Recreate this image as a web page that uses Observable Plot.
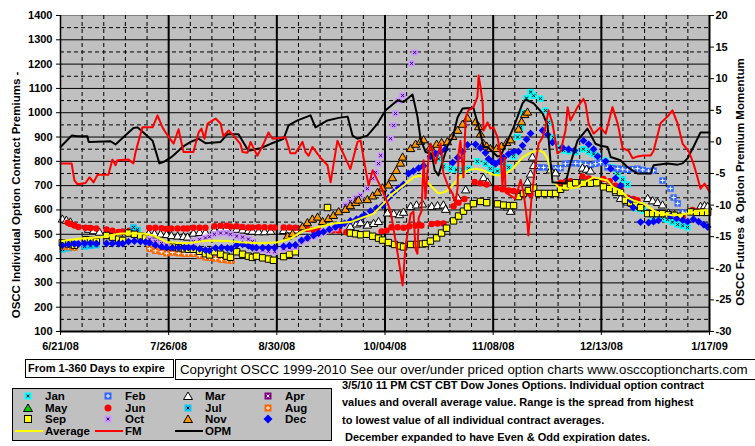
<!DOCTYPE html>
<html><head><meta charset="utf-8">
<script src="https://cdn.jsdelivr.net/npm/d3@7"></script>
<script src="https://cdn.jsdelivr.net/npm/@observablehq/plot@0.6"></script>
<style>
body{margin:0;background:#fff;font-family:"Liberation Sans",Arial,sans-serif;}
#wrap{position:relative;width:755px;height:446px;overflow:hidden;background:#fff;}
#chart{position:absolute;left:0;top:0;}
.box{position:absolute;border:1px solid #000;background:#fff;white-space:nowrap;box-sizing:border-box;}
#days{left:25px;top:359px;width:149px;height:19px;font-weight:bold;font-size:11px;line-height:17px;padding-left:2px;}
#copy{left:175px;top:359px;width:600px;height:21px;font-size:13.3px;line-height:19px;padding-left:4px;}
#legend{position:absolute;left:12px;top:388px;}
#note{position:absolute;left:342px;top:377px;font-weight:bold;font-size:11px;line-height:17.3px;white-space:pre;}
</style></head>
<body><div id="wrap"><div id="chart"></div>
<div id="days" class="box">From 1-360 Days to expire</div>
<div id="copy" class="box">Copyright OSCC 1999-2010 See our over/under priced option charts www.osccoptioncharts.com</div>
<svg id="legend" width="322" height="54"></svg>
<div id="note"></div>
</div>
<script>
// ---- axis ticks / labels ----
const dateLabels = ["6/21/08","7/26/08","8/30/08","10/04/08","11/08/08","12/13/08","1/17/09"];
const dateTickDays = [0,35,70,105,140,175,210];
const leftTicks = [100,200,300,400,500,600,700,800,900,1000,1100,1200,1300,1400];
const rightTicks = [-30,-25,-20,-15,-10,-5,0,5,10,15,20];
const months = ["Jan","Feb","Mar","Apr","May","Jun","Jul","Aug","Sep","Oct","Nov","Dec"];
const noteLines = ["3/5/10 11 PM CST CBT Dow Jones Options. Individual option contract","values and overall average value. Range is the spread from highest","to lowest value of all individual contract averages."," December expanded to have Even & Odd expiration dates."];

// ---- series: [day since 6/21/08, value] ----
const jan = [[120.7,830],[122.3,810],[123.9,780],[126.2,770],[128.1,765],[130.1,765],[132,770],[134.9,800],[137.5,790],[139.1,770],[141.4,760],[143.4,790],[145,775],[146.6,820],[147.9,900],[148.9,940],[149.8,1000],[150.8,1060],[152.1,1085],[153.1,1070],[155.3,1058],[156.9,1009],[157.9,960],[159.5,898],[161.2,855],[162.8,845],[164.4,842],[166.7,838],[169.2,850],[170.9,840],[172.5,830],[173.8,822],[176.4,803],[178.6,775],[180.3,750],[181.9,725],[183.5,705],[184.5,640],[185.7,620],[186.7,606],[188.4,598],[190.3,585],[191.9,570],[194.8,565],[196.4,560],[198,550],[199.7,540],[201.3,535],[202.9,528]];
const feb = [[154.4,775],[156.3,775],[158.2,773],[160.2,772],[161.8,772],[163.4,790],[165,792],[166.7,792],[168.3,790],[169.9,788],[171.5,785],[173.1,790],[174.7,795],[177,775],[178.6,772],[180.3,770],[181.9,768],[183.5,765],[185.1,768],[186.7,770],[188.4,765],[190.3,760],[191.9,762],[194.8,721],[197.4,688],[198.4,651],[199.7,627],[201.3,590]];
const mar = [[0.6,560],[1.9,555],[3.2,548],[9.1,518],[10.7,512],[12.6,506],[15.2,500],[17.2,498],[19.1,497],[28.5,500],[30.4,500],[32.4,498],[34.3,496],[35.9,492],[37.9,490],[39.8,488],[41.1,486],[43,502],[45,505],[46.9,505],[49.8,515],[51.8,520],[53.7,523],[57,518],[58.9,515],[60.8,512],[62.1,510],[64.1,508],[66,508],[68,510],[72.2,513],[74.1,515],[76,515],[93.8,530],[95.8,540],[97.1,545],[99.3,535],[101.3,542],[102.9,550],[105.8,585],[107.8,582],[109.7,578],[111,588],[113.3,612],[115.2,618],[117.1,622],[120.1,612],[122,615],[123.9,618],[124.6,600],[128.5,648],[131.1,680],[136.9,730],[138.2,712],[144.7,610],[145.6,592],[151.1,712],[152.1,745],[152.7,815],[153.1,780],[158.6,762],[160.2,750],[163.4,712],[165.4,708],[167.3,705],[168.9,770],[170.2,765],[171.5,758],[178.6,688],[179.9,670],[181.2,645],[183.5,630],[185.1,625],[190,645],[191.6,635],[193.2,628],[194.8,618],[196.7,585],[198.7,578],[200.6,572],[207.1,612],[208.4,615],[209.4,612]];
const apr = [];
const may = [];
const jun = [[2.3,548],[3.2,542],[4.5,536],[5.8,530],[8.1,527],[9.7,526],[11.6,524],[14.9,520],[16.8,515],[18.8,510],[20.1,512],[22.3,515],[23.6,515],[28.8,526],[30.7,527],[32.7,525],[34.3,522],[35.9,524],[37.9,524],[39.8,524],[41.1,524],[43,527],[45,527],[46.9,527],[49.8,533],[51.8,535],[53.7,535],[55,532],[57,533],[58.9,530],[60.8,528],[62.1,528],[64.1,529],[66,529],[68,528],[69.3,528],[72.2,528],[74.1,528],[76,527],[78,524],[79.9,522],[81.9,517],[83.5,515],[88,515],[90,515],[92.5,508],[93.8,507],[103.9,512],[105.5,515],[107.1,529],[109.1,529],[111,527],[112.9,533],[114.9,536],[116.8,536],[120.1,542],[122,544],[123.9,544],[127.2,615],[128.8,630],[130.7,645],[134,715],[135.9,710],[137.9,705],[141.1,690],[143,685],[145,680],[146.6,678],[148.2,672],[150.2,668],[152.1,665],[161.8,712],[163.4,715],[165,718],[167,705],[168.9,738],[170.9,730],[172.8,722],[175.7,728],[177.7,718],[179.6,700],[181.2,692],[183.5,650],[185.4,645],[186.7,640],[197.4,580],[199.3,575],[201.3,570],[204.5,600],[206.1,595],[207.8,592],[209.4,590]];
const jul = [[0.6,438],[2.6,442],[4.5,448],[7.8,450],[9.7,452],[11.6,455],[23.6,528],[24.9,518]];
const aug = [[0.6,450],[2.6,447],[4.5,445],[28.8,440],[30.7,432],[32.7,428],[34.3,422],[36.2,425],[38.2,422],[40.1,420],[41.4,420],[43,420],[45,412],[46.9,405],[48.2,403],[50.2,400],[52.1,395],[54,393],[55.3,392]];
const sep = [[0.6,465],[2.6,460],[4.5,455],[8.1,478],[9.7,475],[11.6,470],[14.9,495],[16.8,488],[18.8,480],[20.1,475],[22,505],[23.9,500],[25.9,493],[27.5,485],[28.8,478],[30.7,470],[32.7,460],[34.3,452],[36.2,448],[38.2,444],[40.1,440],[41.4,438],[43,438],[45,430],[46.9,420],[48.2,415],[49.8,428],[51.8,418],[53.7,410],[55,405],[57,428],[58.9,418],[60.8,410],[62.1,405],[63.4,410],[65.4,403],[67.3,398],[68.9,393],[72.2,408],[74.1,418],[76,428],[86.4,610],[93.8,505],[95.5,502],[97.1,498],[99,500],[101,492],[102.9,484],[104.2,476],[106.1,466],[108.1,458],[110,452],[111,448],[113.3,458],[115.2,458],[117.1,460],[118.1,462],[119.7,472],[121.7,485],[123.3,505],[124.9,525],[127.2,555],[128.8,575],[130.4,595],[131.7,612],[133.6,626],[135.9,635],[137.9,630],[141.4,625],[143.4,620],[145.3,618],[146.6,618],[148.2,655],[149.8,668],[151.4,680],[153.1,690],[154.7,668],[156.6,668],[158.6,668],[160.2,668],[161.8,685],[163.4,695],[165,705],[166.7,712],[169.2,710],[171.5,710],[173.5,712],[175.7,695],[177.7,688],[179.6,680],[181.2,672],[182.8,640],[184.5,630],[186.1,620],[187.7,610],[190,585],[191.6,585],[193.2,585],[194.8,585],[196.7,580],[198.7,578],[200.6,572],[203.9,592],[205.8,590],[207.8,590],[209.4,590]];
const oct = [[28.8,480],[30.7,470],[32.7,462],[34.3,455],[43,470],[45,478],[46.9,485],[48.2,490],[49.8,500],[51.8,505],[53.7,505],[55,500],[57,492],[58.9,488],[60.8,480],[62.1,470],[63.4,440],[65.4,435],[67.3,430],[69.3,428],[72.2,440],[74.1,445],[76,448],[78,470],[79.9,478],[81.9,490],[83.5,498],[85.1,510],[87,520],[89,525],[92.2,620],[93.8,635],[95.5,650],[97.1,660],[99.3,688],[101,730],[101.9,754],[102.9,791],[103.6,824],[106.8,894],[107.8,948],[108.4,997],[109.4,1050],[110.7,1071],[113.6,1203],[114.6,1248]];
const nov = [[73.5,490],[75.1,500],[78.3,528],[79.9,545],[81.5,560],[83.2,568],[84.8,550],[86.7,562],[88.3,575],[90,590],[92.2,600],[93.8,615],[95.5,628],[96.4,638],[99.3,640],[101,655],[102.6,670],[104.2,688],[106.1,700],[107.4,730],[108.7,760],[110,790],[110.7,815],[113.3,850],[114.9,868],[116.5,880],[117.5,886],[119.7,856],[121.7,868],[123.3,875],[125.2,878],[126.9,900],[128.5,925],[130.1,950],[131.7,975],[134.3,960],[135.3,940],[135.9,910],[136.9,870],[137.9,860],[139.1,850],[141.1,850],[142.7,860],[144.4,875],[145.6,886],[148.2,930],[149.2,960],[150.2,990],[151.1,1000]];
const dec = [[0.6,455],[2.6,458],[4.5,460],[5.8,460],[7.8,462],[9.7,464],[11.6,462],[14.9,462],[16.8,462],[18.8,462],[20.1,462],[22,470],[23.9,472],[25.9,470],[27.5,468],[28.8,465],[30.7,455],[32.7,448],[34.3,445],[36.2,445],[38.2,445],[40.1,445],[41.4,445],[43,445],[45,440],[46.9,435],[48.2,433],[50.2,443],[52.1,445],[54,443],[55.3,441],[57,455],[58.9,458],[60.8,452],[62.1,445],[63.4,445],[65.4,445],[67.3,445],[69.3,445],[72.2,450],[74.1,454],[76,456],[78,475],[79.9,485],[81.9,495],[83.5,505],[85.1,510],[87,520],[89,530],[90.6,538],[91.9,545],[93.8,555],[95.8,562],[97.4,570],[98.4,578],[100.3,595],[102.3,608],[104.2,618],[106.1,650],[107.8,672],[109.4,690],[111,705],[112.6,750],[114.2,760],[115.9,772],[117.5,782],[119.7,820],[121.4,832],[123,840],[124.6,850],[126.9,795],[128.5,815],[130.1,840],[131.7,868],[134.3,870],[135.9,855],[137.5,835],[138.5,810],[139.5,800],[140.8,790],[142.1,800],[143.4,815],[145,830],[146.6,840],[148.2,840],[149.5,865],[150.8,890],[152.1,915],[156,927],[157.6,910],[159.2,878],[162.4,857],[164.4,850],[166.3,845],[169.2,885],[170.9,870],[172.5,850],[173.8,820],[176.4,800],[178,770],[179.6,730],[181.2,700],[184.5,640],[185.4,610],[187.7,550],[190.3,548],[191.9,552],[193.5,557],[197.4,575],[199.3,565],[201.3,558],[202.9,552],[204.8,562],[206.5,552],[208.1,540],[209.4,530]];
const average = [[0,472],[5.8,482],[12.9,488],[19.4,503],[26.9,503],[30.1,495],[34.6,467],[41.1,463],[47.6,474],[54,472],[58.2,467],[64.7,463],[70.2,467],[74.4,482],[78.6,515],[83.2,529],[88.3,544],[93.8,550],[98.1,570],[101.3,585],[104.5,626],[106.8,660],[111,701],[114.2,734],[116.5,742],[118.8,713],[120.4,692],[122.3,668],[124.6,675],[126.2,692],[128.8,729],[131.7,762],[134.3,770],[136.9,762],[140.1,745],[143.4,740],[146.6,775],[149.5,816],[152.1,836],[154.7,845],[156.3,837],[157.6,812],[159.2,721],[161.2,693],[164.1,688],[167.3,693],[170.5,721],[172.5,734],[177,721],[178.9,693],[181.2,680],[183.5,651],[185.4,639],[188.7,626],[191.9,598],[194.2,585],[198.4,577],[202.9,585],[207.1,598],[210,600]];
// right-axis series
const fm = [[0,-3.4],[3.6,-3.4],[4.5,-6.1],[5.5,-6.7],[8.1,-6.5],[9.4,-5.6],[10.7,-6.4],[12,-5.2],[15.5,-5.2],[16.8,-2.8],[17.8,-3.7],[18.4,-2.9],[22,-2.8],[23.6,-3.4],[24.3,-1.6],[26.5,2.3],[29.8,2.3],[31.4,4.2],[33,2.3],[34,1.5],[36.6,-0.3],[38.2,2],[39.8,-1.6],[43,-1.6],[44.7,1.5],[45.6,2.1],[46.6,0.5],[47.6,2.9],[50.2,3.7],[51.8,2.9],[52.7,0.9],[54.4,1.8],[56,1],[58.2,-0.3],[58.9,-1.6],[60.5,-1.7],[61.5,0],[63.7,-2.2],[65.7,-0.3],[67.3,1.5],[68.6,0.5],[72.8,0.75],[74.4,-1.8],[76,-1.8],[78.3,0],[79.3,-1.6],[80.3,-2.2],[81.5,-0.8],[84.1,-2.5],[86.4,-3.7],[87.4,-6.4],[89.6,0.2],[93.8,-4.3],[96.1,0],[97.1,0.2],[98.7,-4.3],[99.7,-6.9],[101,-4.5],[102.9,-6.4],[104.2,-7.7],[106.8,-10.9],[109.1,-17.7],[110.7,-22.7],[111.6,-16.7],[113.3,-11.4],[114.2,-11],[114.9,-17],[115.5,-17.7],[115.9,-12],[116.8,-11],[117.5,-2.9],[118.1,-9],[119.1,-2.4],[119.7,-0.3],[121.4,-3.4],[123,-0.3],[123.9,-5],[125.6,-7.2],[126.9,-8.2],[127.8,-9.8],[128.5,-7.2],[128.8,-1.9],[129.4,0.2],[130.4,-5.6],[131.1,3.9],[132,5],[133.6,5.5],[134.9,7.1],[135.3,10.5],[135.9,8.7],[136.6,6.1],[136.9,1.8],[138.2,3.1],[139.1,2.1],[140.1,2.3],[141.4,0.75],[142.4,-2],[143,-7],[143.7,-2.5],[144,-8],[145.6,-8.5],[147.2,-9],[148.9,-6],[149.8,-8],[150.5,-10.5],[151.1,-13],[151.4,-14.8],[152.4,-9],[153.7,-3.4],[154.7,-0.3],[156,0.75],[156.9,2.3],[157.9,5],[159.2,2.9],[160.8,-1.8],[161.8,-1.5],[163.4,1.8],[164.1,5.5],[165,3.4],[167.3,5.5],[169.2,6.8],[169.9,6],[170.9,2.9],[172.5,1.3],[174.7,2.3],[176.4,1.3],[178.6,5.5],[180.3,2.9],[181.9,-1],[183.8,-1.4],[185.1,-2.6],[186.7,-2.3],[188.7,-2.15],[191,-2.15],[191.9,-1.4],[194.2,3],[196.4,4],[198,5],[199.7,2.9],[201.3,-0.3],[203.2,-1.4],[204.8,-3.4],[206.1,-5.6],[207.1,-7.4],[208.4,-6.6],[210,-7.9]];
const opm = [[0,-0.8],[3.6,1],[5.5,0.9],[8.7,0.9],[9.1,0],[16.2,0.1],[17.8,-0.4],[23.6,2.2],[24.9,2.3],[28.2,0.9],[29.8,0.2],[32,-3.4],[33.3,-3.2],[35.6,-2.5],[36.6,-2.1],[39.5,-0.8],[42.1,0],[44.7,0.5],[46.9,-0.2],[51.8,0],[54,1.2],[57.6,1.2],[60.8,-1.4],[64.7,-1],[68,-0.3],[72.2,0.5],[73.8,2.6],[76.7,3.4],[80.9,4.2],[82.5,2.3],[86.4,3.4],[90,3.8],[92.9,4],[94.5,1],[96.1,0.5],[99.3,1],[102.6,2.9],[105.2,5],[109.1,6.6],[111,6.3],[113.9,7.5],[115.5,4],[116.5,0.5],[118.1,-1.6],[120.1,-1.9],[121.1,-4.5],[122.3,-5.3],[123.3,-3.7],[125.2,-0.6],[126.9,0.7],[128.5,3.9],[130.1,5.3],[133.6,5.4],[135.9,1.3],[136.9,-0.8],[138.2,-0.8],[141.4,-2.3],[142.4,-2.2],[144.7,0.2],[146.6,2.3],[149.5,6.1],[150.5,6.7],[153.1,6.1],[156,4.5],[157.6,2.6],[158.6,-3.4],[159.2,-6.4],[163.4,-6.6],[165,-3.4],[167.3,0.2],[170.5,2.1],[173.1,-0.3],[174.7,-0.6],[177,-0.8],[178,-2.4],[181.2,-2.9],[183.5,-4],[185.1,-4.5],[186.7,-5],[191,-5],[191.9,-3.7],[196.4,-3.4],[199.7,-3.6],[201.3,-3.4],[202.9,-2.6],[204.8,-0.8],[207.1,1.5],[210,1.5]];

// ---- styles ----
const styleOf = {
  Jan:{sym:"square", fill:"#00ffff", inner:"times", ic:"#000"},
  Feb:{sym:"square", fill:"#3366ff", inner:"plus", ic:"#fff"},
  Mar:{sym:"triangle", fill:"#ffffff", stroke:"#000"},
  Apr:{sym:"square", fill:"#800080", inner:"times", ic:"#fff"},
  May:{sym:"triangle", fill:"#00cc00", stroke:"#000"},
  Jun:{sym:"circle", fill:"#ff0000"},
  Jul:{sym:"square", fill:"#00ccff", inner:"times", ic:"#000"},
  Aug:{sym:"square", fill:"#ff6600", inner:"plus", ic:"#fff"},
  Sep:{sym:"square", fill:"#ffff00", stroke:"#000"},
  Oct:{sym:"square", fill:"#cc99ff", inner:"times", ic:"#330066"},
  Nov:{sym:"triangle", fill:"#ff9900", stroke:"#000"},
  Dec:{sym:"diamond2", fill:"#0000ff"}
};
const seriesData = {Jan:jan,Feb:feb,Mar:mar,Apr:apr,May:may,Jun:jun,Jul:jul,Aug:aug,Sep:sep,Oct:oct,Nov:nov,Dec:dec};
const rOf = s => s.sym==="square" ? 3.6 : s.sym==="triangle" ? 3.1 : s.sym==="circle" ? 3.2 : 3.5;

const X = d => d[0], Y = d => d[1];
const toLeft = r => 100 + (r + 30) * 26;

function markerMarks(name){
  const s = styleOf[name], data = seriesData[name];
  const out = [Plot.dot(data, {x:X, y:Y, symbol:s.sym, r:rOf(s), fill:s.fill, stroke:s.stroke||"none", strokeWidth:1})];
  if (s.inner) out.push(Plot.dot(data, {x:X, y:Y, symbol:s.inner, r:1.5, stroke:s.ic, strokeWidth:1}));
  return out;
}

const gridHalf = leftTicks.slice(0,-1).map(v => v + 50);
const weekDays = d3.range(7, 210, 7).filter(d => d % 35 !== 0);

const chart = Plot.plot({
  width:755, height:355,
  marginTop:15, marginBottom:24, marginLeft:60, marginRight:46,
  x:{domain:[0,210]}, y:{domain:[100,1400]},
  style:{background:"transparent", fontFamily:"'Liberation Sans', Arial, sans-serif", fontSize:"11px", fontWeight:"bold", color:"#000"},
  marks:[
    Plot.frame({fill:"#c0c0c0", stroke:"#808080"}),
    Plot.ruleY(gridHalf, {stroke:"#000", strokeDasharray:"4,3"}),
    Plot.ruleY(leftTicks.slice(1,-1), {stroke:"#000"}),
    Plot.ruleX(weekDays, {stroke:"#000", strokeDasharray:"4,3"}),
    Plot.ruleX(dateTickDays.slice(1,-1), {stroke:"#000", strokeWidth:2}),
    months.map(markerMarks),
    Plot.line(average, {x:X, y:Y, stroke:"#ffff00", strokeWidth:2}),
    Plot.line(opm, {x:X, y:d => toLeft(d[1]), stroke:"#000", strokeWidth:2}),
    Plot.line(fm, {x:X, y:d => toLeft(d[1]), stroke:"#ff0000", strokeWidth:2}),
    Plot.ruleX([0], {stroke:"#000", strokeWidth:1.5}),
    Plot.ruleX([210], {stroke:"#000", strokeWidth:2}),
    Plot.ruleY([100], {stroke:"#000", strokeWidth:2}),
    Plot.axisY(leftTicks, {anchor:"left", tickSize:4, tickPadding:4, label:null, tickFormat: d => String(d)}),
    Plot.axisY(rightTicks.map(toLeft), {anchor:"right", tickSize:4, tickPadding:2, label:null,
      tickFormat: v => String(Math.round((v - 100) / 26 - 30))}),
    Plot.axisX(dateTickDays, {tickSize:4, tickPadding:7, label:null,
      tickFormat: d => dateLabels[dateTickDays.indexOf(d)]})
  ]
});
document.getElementById("chart").appendChild(chart);

const svg = d3.select(chart);
svg.append("text").attr("transform","translate(20,195) rotate(-90)").attr("text-anchor","middle")
  .attr("font-size",11.5).attr("font-weight","bold").attr("fill","#000")
  .text("OSCC Individual Option Contract Premiums -");
svg.append("text").attr("transform","translate(744,182) rotate(-90)").attr("text-anchor","middle")
  .attr("font-size",11.5).attr("font-weight","bold").attr("fill","#000")
  .text("OSCC Futures & Option Premium Momentum");

// ---- legend ----
const lg = d3.select("#legend");
lg.append("rect").attr("x",0.5).attr("y",0.5).attr("width",319).attr("height",52).attr("fill","#c0c0c0").attr("stroke","#000");
const colX = [16, 96, 176, 256], rowY = [8, 20, 31, 43];
months.forEach((m, i) => {
  const s = styleOf[m], cx = colX[i % 4], cy = rowY[Math.floor(i / 4)];
  const g = lg.append("g").attr("transform",`translate(${cx},${cy})`);
  if (s.sym === "square") g.append("rect").attr("x",-3.5).attr("y",-3.5).attr("width",7).attr("height",7).attr("fill",s.fill).attr("stroke",s.stroke||"none");
  else if (s.sym === "triangle") g.append("path").attr("d","M0,-4L4.5,3.5L-4.5,3.5Z").attr("fill",s.fill).attr("stroke",s.stroke);
  else if (s.sym === "circle") g.append("circle").attr("r",3.5).attr("fill",s.fill);
  else g.append("path").attr("d","M0,-4.5L4.5,0L0,4.5L-4.5,0Z").attr("fill",s.fill);
  if (s.inner === "times") g.append("path").attr("d","M-1.5,-1.5L1.5,1.5M1.5,-1.5L-1.5,1.5").attr("stroke",s.ic);
  if (s.inner === "plus") g.append("path").attr("d","M-2,0L2,0M0,-2L0,2").attr("stroke",s.ic);
  lg.append("text").attr("x", cx + 17).attr("y", cy + 4).attr("font-size",11.5).attr("font-weight","bold").text(m);
});
const lineItems = [["Average","#ffff00"],["FM","#ff0000"],["OPM","#000"]];
lineItems.forEach(([name, c], i) => {
  const x0 = colX[i] - 13;
  lg.append("line").attr("x1", x0).attr("x2", x0 + 28).attr("y1", rowY[3]).attr("y2", rowY[3]).attr("stroke", c).attr("stroke-width", 2);
  lg.append("text").attr("x", colX[i] + 17).attr("y", rowY[3] + 4).attr("font-size",11.5).attr("font-weight","bold").text(name);
});

document.getElementById("note").textContent = noteLines.join("\n");
</script></body></html>
